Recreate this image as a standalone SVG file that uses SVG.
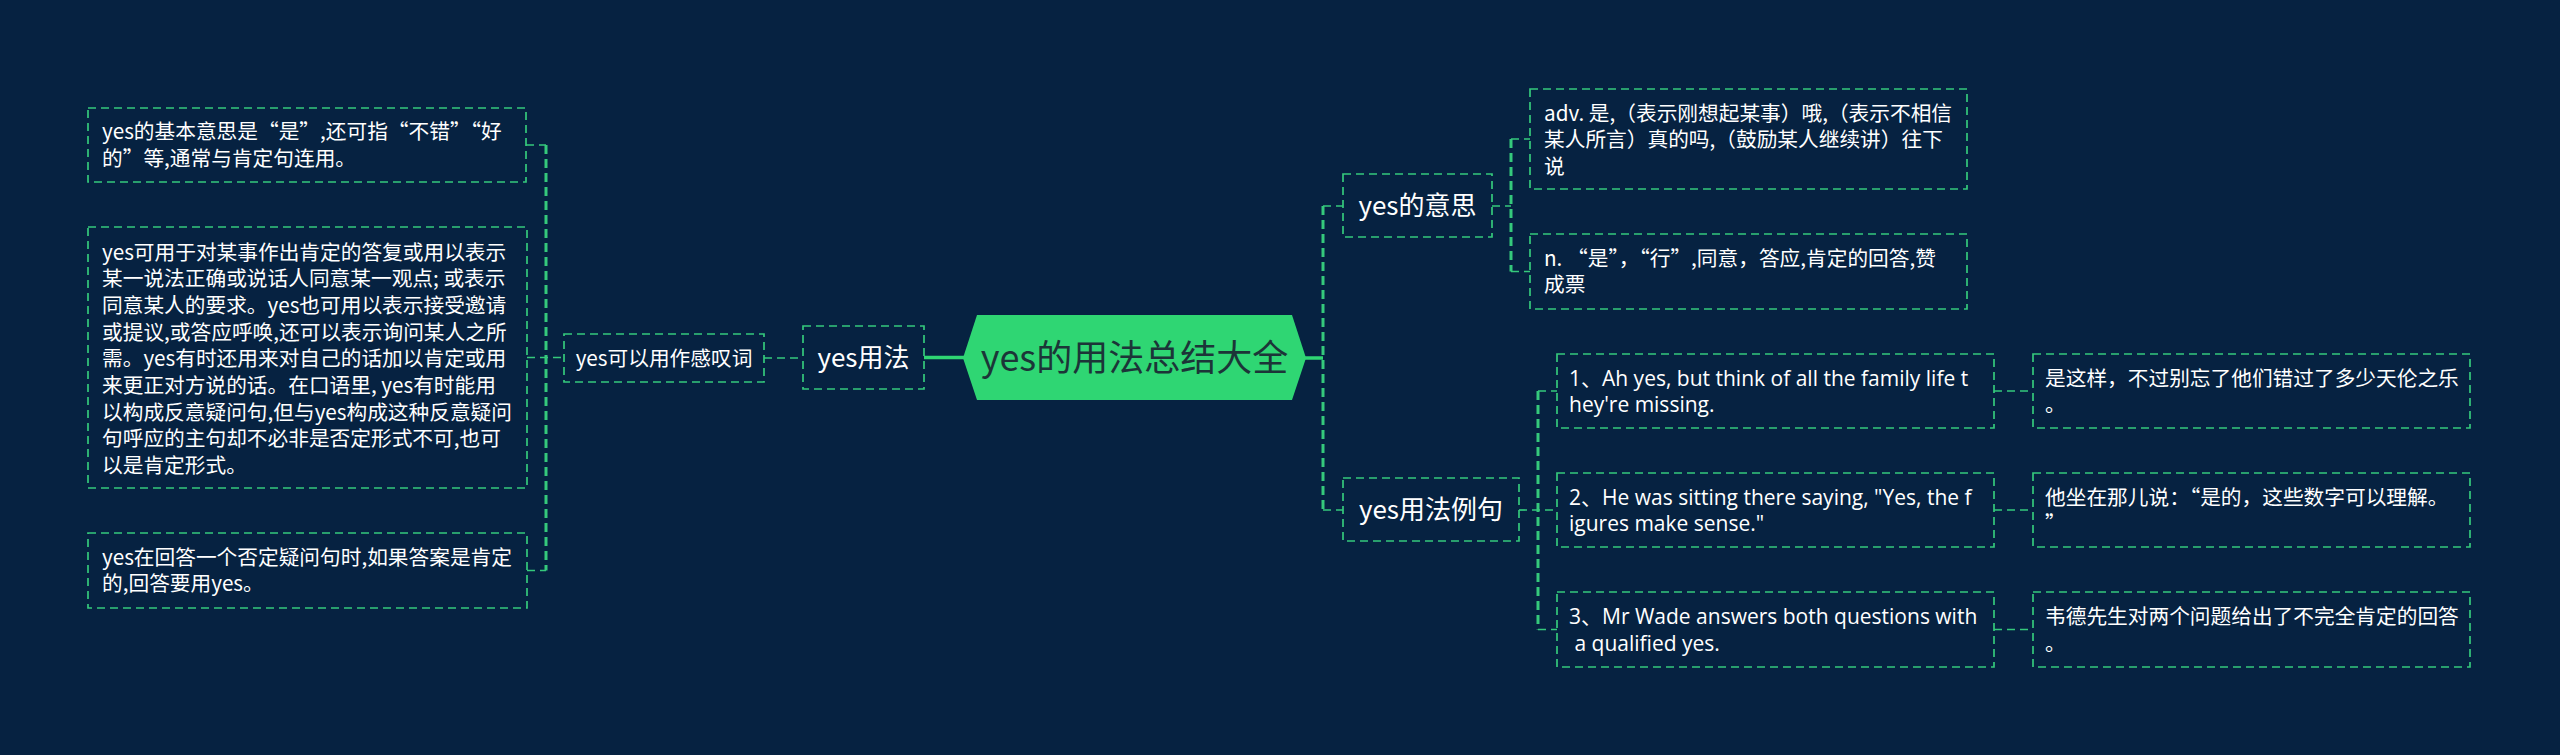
<svg xmlns="http://www.w3.org/2000/svg" width="2560" height="755" viewBox="0 0 2560 755">
<style>
.bg{fill:#062241}
.box{fill:none;stroke:#35c97c;stroke-width:1.7;stroke-dasharray:8 5}
.ln{fill:none;stroke:#35c97c;stroke-width:1.7;stroke-dasharray:8 5}
.trunk{fill:none;stroke:#35c97c;stroke-width:3;stroke-dasharray:9 5}
.solid{fill:none;stroke:#2fd673;stroke-width:3.5}
.leaf{font-family:"Open Sans","Noto Sans CJK SC",sans-serif;font-size:21px;fill:#ffffff}
.leafc{font-family:"Noto Sans CJK SC",sans-serif;font-size:20.7px;fill:#ffffff}
.lbl{font-family:"Noto Sans CJK SC",sans-serif;font-size:26px;fill:#ffffff;text-anchor:middle}
.lbls{font-family:"Noto Sans CJK SC",sans-serif;font-size:20.7px;fill:#ffffff;text-anchor:middle}
.root{font-family:"Noto Sans CJK SC",sans-serif;font-size:36px;fill:#1c3538;text-anchor:middle}
</style>
<rect class="bg" x="0" y="0" width="2560" height="755"/>
<g id="connectors">
<line class="solid" x1="924" y1="357.5" x2="964" y2="357.5"/>
<line class="ln" x1="764" y1="358" x2="803" y2="358"/>
<line class="ln" x1="527" y1="357.5" x2="564" y2="357.5"/>
<line class="trunk" x1="546" y1="145" x2="546" y2="570.5"/>
<line class="ln" x1="526" y1="145" x2="546" y2="145"/>
<line class="ln" x1="527" y1="570.5" x2="546" y2="570.5"/>
<line class="solid" x1="1305" y1="358" x2="1323" y2="358"/>
<line class="trunk" x1="1323" y1="206" x2="1323" y2="510"/>
<line class="ln" x1="1323" y1="206" x2="1343" y2="206"/>
<line class="ln" x1="1323" y1="510" x2="1343" y2="510"/>
<line class="ln" x1="1492" y1="206" x2="1511" y2="206"/>
<line class="trunk" x1="1511" y1="139" x2="1511" y2="271.5"/>
<line class="ln" x1="1511" y1="139" x2="1530" y2="139"/>
<line class="ln" x1="1511" y1="271.5" x2="1530" y2="271.5"/>
<line class="ln" x1="1519" y1="510" x2="1557" y2="510"/>
<line class="trunk" x1="1538" y1="391" x2="1538" y2="629.5"/>
<line class="ln" x1="1538" y1="391" x2="1557" y2="391"/>
<line class="ln" x1="1538" y1="629.5" x2="1557" y2="629.5"/>
<line class="ln" x1="1994" y1="391" x2="2033" y2="391"/>
<line class="ln" x1="1994" y1="510" x2="2033" y2="510"/>
<line class="ln" x1="1994" y1="629.5" x2="2033" y2="629.5"/>
</g>
<g id="root">
<polygon points="963,358 977,315 1292,315 1306,358 1292,400 977,400" fill="#2fd673"/>
<text class="root" x="1134.5" y="370.5">yes的用法总结大全</text>
</g>
<g id="n-usage">
<rect class="box" x="803" y="326" width="121" height="63"/>
<text class="lbl" x="863.5" y="367">yes用法</text>
</g>
<g id="n-interj">
<rect class="box" x="564" y="334" width="200" height="48"/>
<text class="lbls" x="664" y="365.5">yes可以用作感叹词</text>
</g>
<g id="n-left1">
<rect class="box" x="88" y="108" width="438" height="74"/>
<text class="leafc" x="102" y="139"><tspan x="102">yes的基本意思是“是”,还可指“不错”“好</tspan><tspan x="102" dy="26.7">的”等,通常与肯定句连用。</tspan></text>
</g>
<g id="n-left2">
<rect class="box" x="88" y="227" width="439" height="261"/>
<text class="leafc" x="102" y="259.5"><tspan x="102">yes可用于对某事作出肯定的答复或用以表示</tspan><tspan x="102" dy="26.7">某一说法正确或说话人同意某一观点; 或表示</tspan><tspan x="102" dy="26.7">同意某人的要求。yes也可用以表示接受邀请</tspan><tspan x="102" dy="26.7">或提议,或答应呼唤,还可以表示询问某人之所</tspan><tspan x="102" dy="26.7">需。yes有时还用来对自己的话加以肯定或用</tspan><tspan x="102" dy="26.7">来更正对方说的话。在口语里, yes有时能用</tspan><tspan x="102" dy="26.7">以构成反意疑问句,但与yes构成这种反意疑问</tspan><tspan x="102" dy="26.7">句呼应的主句却不必非是否定形式不可,也可</tspan><tspan x="102" dy="26.7">以是肯定形式。</tspan></text>
</g>
<g id="n-left3">
<rect class="box" x="88" y="533" width="439" height="75"/>
<text class="leafc" x="102" y="564.5"><tspan x="102">yes在回答一个否定疑问句时,如果答案是肯定</tspan><tspan x="102" dy="26.7">的,回答要用yes。</tspan></text>
</g>
<g id="n-meaning">
<rect class="box" x="1343" y="174" width="149" height="63"/>
<text class="lbl" x="1417.5" y="215">yes的意思</text>
</g>
<g id="n-adv">
<rect class="box" x="1530" y="89" width="437" height="100"/>
<text class="leafc" x="1544" y="120.5"><tspan x="1544">adv. 是,（表示刚想起某事）哦,（表示不相信</tspan><tspan x="1544" dy="26.7">某人所言）真的吗,（鼓励某人继续讲）往下</tspan><tspan x="1544" dy="26.7">说</tspan></text>
</g>
<g id="n-noun">
<rect class="box" x="1530" y="234" width="437" height="75"/>
<text class="leafc" x="1544" y="265.5"><tspan x="1544">n. “是”，“行”,同意，答应,肯定的回答,赞</tspan><tspan x="1544" dy="26.7">成票</tspan></text>
</g>
<g id="n-examples">
<rect class="box" x="1343" y="478" width="176" height="63"/>
<text class="lbl" x="1431" y="519">yes用法例句</text>
</g>
<g id="n-ex1">
<rect class="box" x="1557" y="354" width="437" height="74"/>
<text class="leaf" x="1569" y="385.5"><tspan x="1569">1、Ah yes, but think of all the family life t</tspan><tspan x="1569" dy="26.7">hey're missing.</tspan></text>
</g>
<g id="n-tr1">
<rect class="box" x="2033" y="354" width="437" height="74"/>
<text class="leafc" x="2045" y="385.5"><tspan x="2045">是这样，不过别忘了他们错过了多少天伦之乐</tspan><tspan x="2045" dy="26.7">。</tspan></text>
</g>
<g id="n-ex2">
<rect class="box" x="1557" y="473" width="437" height="74"/>
<text class="leaf" x="1569" y="504.5"><tspan x="1569">2、He was sitting there saying, "Yes, the f</tspan><tspan x="1569" dy="26.7">igures make sense."</tspan></text>
</g>
<g id="n-tr2">
<rect class="box" x="2033" y="473" width="437" height="74"/>
<text class="leafc" x="2045" y="504.5"><tspan x="2045">他坐在那儿说：“是的，这些数字可以理解。</tspan><tspan x="2045" dy="26.7">”</tspan></text>
</g>
<g id="n-ex3">
<rect class="box" x="1557" y="592" width="437" height="75"/>
<text class="leaf" x="1569" y="624" style="white-space:pre"><tspan x="1569">3、Mr Wade answers both questions with</tspan><tspan x="1569" dy="26.7"> a qualified yes.</tspan></text>
</g>
<g id="n-tr3">
<rect class="box" x="2033" y="592" width="437" height="75"/>
<text class="leafc" x="2045" y="624"><tspan x="2045">韦德先生对两个问题给出了不完全肯定的回答</tspan><tspan x="2045" dy="26.7">。</tspan></text>
</g>
</svg>
